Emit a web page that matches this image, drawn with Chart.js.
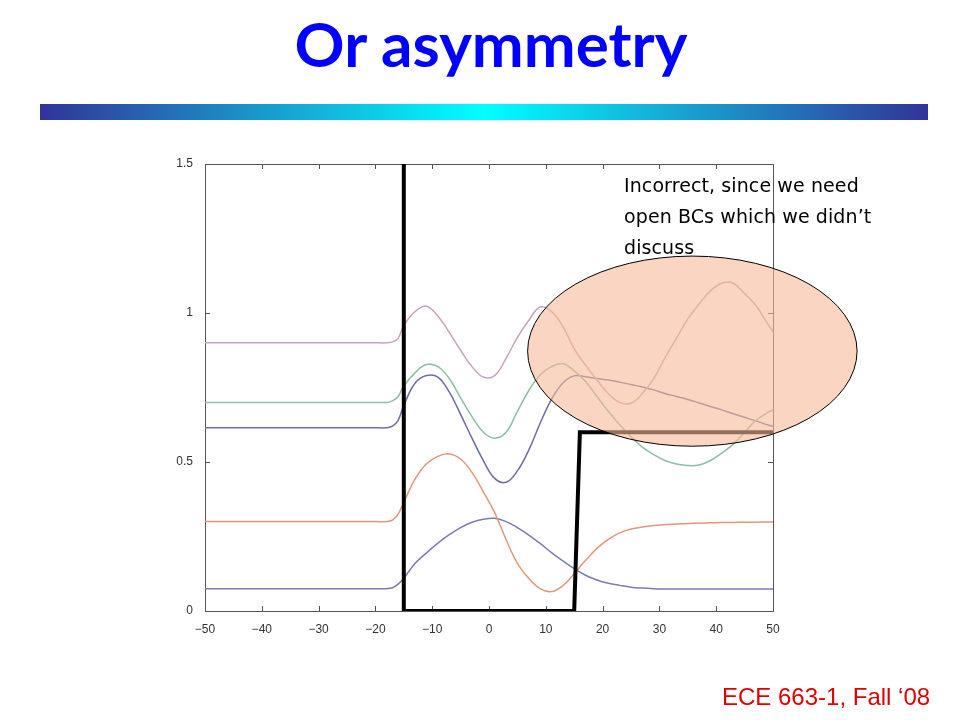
<!DOCTYPE html>
<html>
<head>
<meta charset="utf-8">
<script src="https://cdn.jsdelivr.net/npm/chart.js@4.4.1/dist/chart.umd.min.js"></script>
<style>
  html, body { margin: 0; padding: 0; background: #fff; }
  body { width: 960px; height: 720px; position: relative; overflow: hidden; }
  #chart { position: absolute; left: 0; top: 0; }
  #title { position: absolute; left: 0; top: 6px; width: 982px; text-align: center;
           font: bold 62px Lato, sans-serif; color: #0000ff; }
  #bar { position: absolute; left: 40px; top: 104px; width: 888px; height: 16px;
         background: linear-gradient(to right, #333399, #00ffff 50%, #333399); }
  #note { position: absolute; left: 624px; top: 170px; font: 19px "DejaVu Sans", sans-serif;
          letter-spacing: 0.1px; line-height: 31px; color: #000; }
  #footer { position: absolute; left: 722px; top: 683px; font: 24px "Liberation Sans", Arial, sans-serif;
            color: #e00000; }
</style>
</head>
<body>
<canvas id="chart" width="960" height="720"></canvas>
<div id="title">Or asymmetry</div>
<div id="bar"></div>
<div id="note">Incorrect, since we need<br>open BCs which we didn’t<br>discuss</div>
<div id="footer">ECE 663-1, Fall ‘08</div>
<script>
// sample positions along x, shared by the five curves
const xs = [-50, -35, -20, -18, -17, -16, -15, -13, -11, -9, -7, -5, -3, -1, 1, 3, 5, 7, 9, 11, 13,
  15, 17, 19, 21, 23, 25, 27, 29, 31, 33, 35, 37, 39, 41, 43, 45, 47, 49, 50];

const pink = [0.9, 0.9, 0.9, 0.9, 0.903, 0.915, 0.958, 1.005, 1.023, 0.99, 0.935, 0.875, 0.82, 0.785, 0.79,
  0.848, 0.918, 0.975, 1.02, 1.005, 0.955, 0.88, 0.825, 0.775, 0.73, 0.7, 0.697, 0.73, 0.78, 0.85,
  0.915, 0.98, 1.03, 1.075, 1.1, 1.1, 1.065, 1.025, 0.965, 0.937];

const green = [0.7, 0.7, 0.7, 0.7, 0.705, 0.72, 0.755, 0.8, 0.827, 0.82, 0.78, 0.715, 0.652, 0.6, 0.58,
  0.6, 0.67, 0.74, 0.792, 0.82, 0.83, 0.806, 0.77, 0.72, 0.67, 0.625, 0.585, 0.55, 0.525, 0.505,
  0.493, 0.488, 0.49, 0.505, 0.53, 0.56, 0.6, 0.64, 0.665, 0.675];

const violet = [0.615, 0.615, 0.615, 0.615, 0.62, 0.64, 0.69, 0.765, 0.79, 0.785, 0.735, 0.66, 0.58, 0.505, 0.445,
  0.432, 0.47, 0.54, 0.63, 0.71, 0.765, 0.789, 0.786, 0.78, 0.775, 0.768, 0.76, 0.752, 0.742, 0.73,
  0.72, 0.71, 0.698, 0.686, 0.675, 0.662, 0.65, 0.638, 0.625, 0.62];

const orange = [0.3, 0.3, 0.3, 0.3, 0.305, 0.325, 0.365, 0.443, 0.494, 0.519, 0.527, 0.51, 0.465, 0.4, 0.33,
  0.24, 0.16, 0.11, 0.075, 0.065, 0.085, 0.125, 0.17, 0.21, 0.24, 0.262, 0.275, 0.282, 0.287, 0.29,
  0.292, 0.294, 0.295, 0.296, 0.297, 0.297, 0.298, 0.298, 0.299, 0.299];

const ground = [0.075, 0.075, 0.075, 0.075, 0.078, 0.09, 0.11, 0.16, 0.195, 0.228, 0.256, 0.28, 0.298, 0.308, 0.311,
  0.3, 0.28, 0.255, 0.227, 0.196, 0.168, 0.142, 0.12, 0.104, 0.093, 0.086, 0.08, 0.077, 0.075, 0.074,
  0.074, 0.074, 0.074, 0.074, 0.074, 0.074, 0.074, 0.074, 0.074, 0.074];

// potential profile (thick black line)
const wellX = [-15, -15, 15, 16, 50];
const wellY = [1.5, 0, 0, 0.6, 0.6];

const xTicks = [-50, -40, -30, -20, -10, 0, 10, 20, 30, 40, 50];
const yTicks = [0, 0.5, 1, 1.5];

// highlighted region, in data units
const ovalCenter = { x: 35.8, y: 0.872 };
const ovalRadius = { x: 29, y: 0.319 };

const toPoints = (x, y) => x.map((v, i) => ({ x: v, y: y[i] }));

function curve(values, color) {
  return {
    data: toPoints(xs, values),
    borderColor: color,
    borderWidth: 1.5,
    tension: 0.4,
    pointRadius: 0,
  };
}

const framePlugin = {
  id: 'frame',
  beforeDatasetsDraw(chart) {
    const { ctx, chartArea: a, scales } = chart;
    ctx.save();
    ctx.strokeStyle = '#555';
    ctx.lineWidth = 1;
    ctx.strokeRect(a.left + 0.5, a.top + 0.5, a.right - a.left, a.bottom - a.top);
    ctx.beginPath();
    xTicks.forEach(t => {
      const px = Math.round(scales.x.getPixelForValue(t)) + 0.5;
      ctx.moveTo(px, a.bottom); ctx.lineTo(px, a.bottom - 5);
      ctx.moveTo(px, a.top); ctx.lineTo(px, a.top + 5);
    });
    yTicks.forEach(t => {
      const py = Math.round(scales.y.getPixelForValue(t)) + 0.5;
      ctx.moveTo(a.left, py); ctx.lineTo(a.left + 5, py);
      ctx.moveTo(a.right, py); ctx.lineTo(a.right - 5, py);
    });
    ctx.stroke();
    ctx.restore();
  },
  afterDatasetsDraw(chart) {
    const { ctx, scales } = chart;
    const cx = scales.x.getPixelForValue(ovalCenter.x);
    const cy = scales.y.getPixelForValue(ovalCenter.y);
    const rx = scales.x.getPixelForValue(ovalCenter.x + ovalRadius.x) - cx;
    const ry = cy - scales.y.getPixelForValue(ovalCenter.y + ovalRadius.y);
    ctx.save();
    ctx.beginPath();
    ctx.ellipse(cx, cy, rx, ry, 0, 0, Math.PI * 2);
    ctx.fillStyle = 'rgba(247, 185, 152, 0.6)';
    ctx.fill();
    ctx.strokeStyle = '#000';
    ctx.lineWidth = 1;
    ctx.stroke();
    ctx.restore();
  }
};

new Chart(document.getElementById('chart'), {
  type: 'line',
  data: {
    datasets: [
      { data: toPoints(wellX, wellY), borderColor: '#000', borderWidth: 4, tension: 0, pointRadius: 0 },
      curve(pink, '#c9a2bd'),
      curve(green, '#8dbfa3'),
      curve(violet, '#6f6c9f'),
      curve(orange, '#e0977b'),
      curve(ground, '#7d7bb0'),
    ]
  },
  options: {
    responsive: false,
    animation: false,
    layout: { padding: { left: 175, right: 187, top: 164, bottom: 84 } },
    plugins: { legend: { display: false }, tooltip: { enabled: false } },
    scales: {
      x: {
        type: 'linear', min: -50, max: 50,
        afterBuildTicks: s => { s.ticks = xTicks.map(v => ({ value: v })); },
        afterFit: s => { s.height = 25; },
        grid: { display: false }, border: { display: false },
        ticks: {
          maxRotation: 0, padding: 3, color: '#333',
          font: { family: 'Liberation Sans', size: 12 },
          callback: v => (v < 0 ? '\u2212' + Math.abs(v) : String(v))
        }
      },
      y: {
        min: 0, max: 1.5,
        afterBuildTicks: s => { s.ticks = yTicks.map(v => ({ value: v })); },
        afterFit: s => { s.width = 30; },
        grid: { display: false }, border: { display: false },
        ticks: {
          padding: 4, color: '#333', font: { family: 'Liberation Sans', size: 12 },
          callback: v => String(v)
        }
      }
    }
  },
  plugins: [framePlugin]
});
</script>
</body>
</html>
